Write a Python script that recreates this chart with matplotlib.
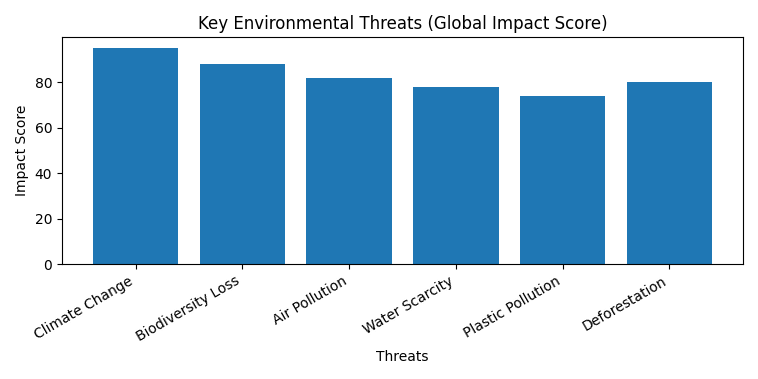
import matplotlib
matplotlib.use("Agg")
import matplotlib.pyplot as plt

threats = ["Climate Change", "Biodiversity Loss", "Air Pollution",
           "Water Scarcity", "Plastic Pollution", "Deforestation"]
scores = [95, 88, 82, 78, 74, 80]

fig, ax = plt.subplots(figsize=(7.58, 3.79), dpi=100)
ax.bar(threats, scores, color="#1f77b4")
ax.set_title("Key Environmental Threats (Global Impact Score)")
ax.set_xlabel("Threats")
ax.set_ylabel("Impact Score")
plt.setp(ax.get_xticklabels(), rotation=30, ha="right")
fig.tight_layout()
fig.savefig("out.png", dpi=100)
